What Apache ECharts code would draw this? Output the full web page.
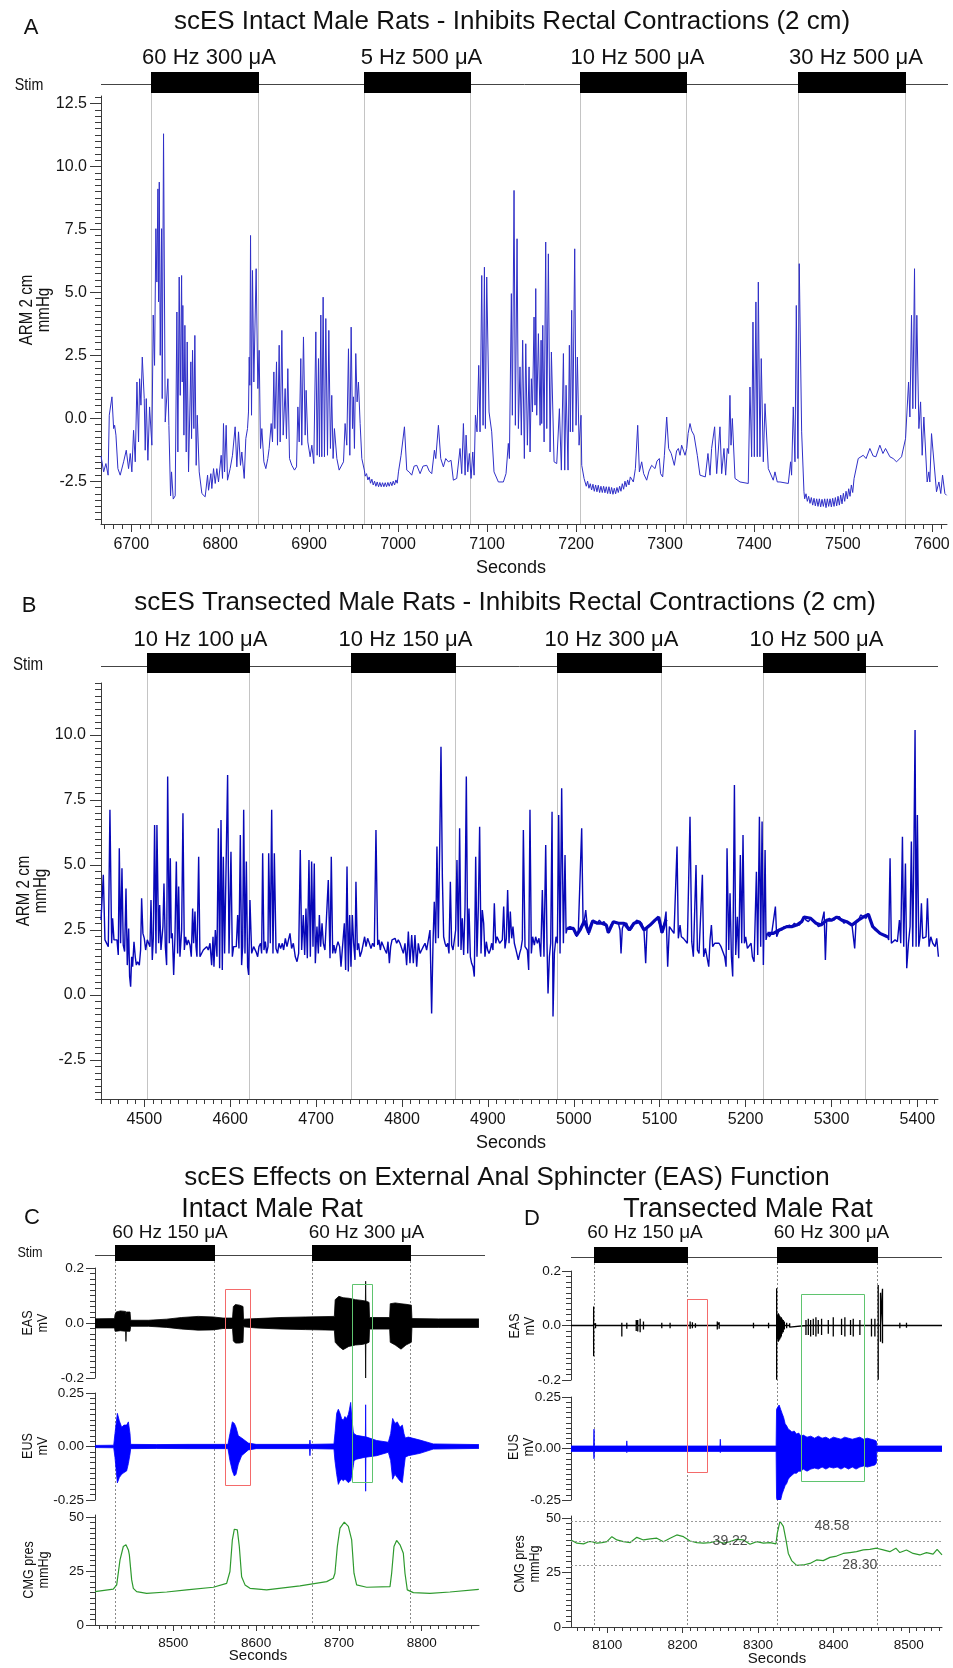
<!DOCTYPE html>
<html><head><meta charset="utf-8">
<script src="https://cdn.jsdelivr.net/npm/echarts@6/dist/echarts.min.js"></script>
<style>html,body{margin:0;padding:0;background:#fff}#c{width:953px;height:1668px}</style>
</head><body><div id="c"></div>
<script>
// ---------------- DATA ----------------
const armA = [
[6666,-1.5],[6669,-2.13],[6671.5,-1.8],[6674,-2.26],[6675.3,0.12],[6678.3,0.85],[6680.2,-0.41],[6681.3,-0.28],[6682.8,-0.67],[6685,-2.0],[6687.6,-2.26],[6691.4,-1.73],[6694.4,-1.27],[6697,-2.0],[6698.9,-1.4],[6700.7,-2.13],[6702.6,-0.48],[6704.5,-1.73],[6706.4,1.44],[6708.2,-0.94],[6709.4,1.57],[6710.9,0.52],[6712.4,2.43],[6714.6,0.78],[6715.7,-1.27],[6716.9,0.78],[6718.7,-1.67],[6720.6,0.45],[6723.2,-1.07],[6724.7,4.10],[6726.2,2.10],[6727.7,7.53],[6728.8,5.41],[6730.0,9.11],[6730.7,4.62],[6731.5,9.38],[6732.6,2.50],[6734.1,7.53],[6734.8,0.78],[6736.3,11.30],[6738.2,-0.15],[6741.2,1.57],[6742.3,-0.28],[6744.2,-3.08],[6745.3,-2.13],[6747.2,-3.21],[6749.4,-3.08],[6751.3,4.22],[6752.4,-1.34],[6753.9,5.61],[6755.1,0.91],[6756.6,5.67],[6757.3,1.44],[6758.0,4.48],[6759.2,-0.67],[6760.3,3.69],[6761.8,-1.34],[6762.9,3.03],[6764.4,-2.13],[6767.0,2.24],[6767.8,-0.81],[6768.9,2.70],[6770.4,-0.41],[6771.5,3.29],[6773.0,-1.87],[6774.2,0.12],[6776.4,-2.13],[6779.4,-2.99],[6783.1,-3.12],[6785.8,-2.26],[6786.9,-2.86],[6789.5,-2.2],[6790.6,-2.79],[6792.5,-2.0],[6794.4,-2.59],[6796.2,-2.0],[6798.1,-2.53],[6801.1,-1.47],[6802.6,-2.39],[6803.7,-0.21],[6804.9,-2.13],[6806.7,-0.28],[6808.2,-2.46],[6811.2,-2.0],[6813.8,-1.47],[6816.8,-0.34],[6818.7,-1.93],[6820.6,-0.54],[6822.8,-1.87],[6824.3,-1.34],[6827.0,-2.39],[6828.8,-0.81],[6830.7,-0.41],[6831.8,0.25],[6832.6,2.43],[6833.3,1.31],[6834.1,7.26],[6835.2,0.12],[6836.3,5.87],[6837.8,1.44],[6840.4,5.94],[6842.3,1.18],[6843.8,2.70],[6845.3,-1.20],[6846.8,-0.41],[6849.1,-1.73],[6851.3,-2.0],[6853.5,-1.6],[6855.0,-1.2],[6857.3,-0.21],[6858.8,-0.94],[6860.3,1.84],[6861.4,-0.41],[6863.3,2.24],[6864.4,-1.07],[6866.3,2.90],[6867.4,-0.94],[6869.3,3.49],[6870.8,-0.67],[6873.0,1.18],[6874.5,-0.81],[6876.0,1.97],[6877.9,-1.6],[6880.5,-1.87],[6883.5,-2.06],[6885.8,-1.93],[6887.3,0.45],[6888.8,-0.94],[6890.6,2.37],[6891.7,-1.07],[6893.6,3.23],[6895.5,-0.67],[6896.6,1.11],[6898.5,-0.94],[6901.1,-1.53],[6903.0,-1.07],[6905.2,-1.80],[6907.5,3.43],[6909.0,-1.47],[6910.5,2.37],[6911.6,-1.53],[6913.1,4.10],[6914.2,-1.53],[6915.7,4.81],[6917.2,-1.53],[6918.7,3.96],[6920.6,-1.47],[6922.1,3.49],[6923.9,-1.2],[6925.4,0.91],[6926.9,-1.6],[6928.4,-0.41],[6931.1,-1.6],[6933.7,-2.06],[6935.9,-2.06],[6938.6,-1.73],[6940.4,-0.21],[6942.3,-1.07],[6944.2,2.76],[6945.7,-1.47],[6947.2,3.62],[6948.7,-0.41],[6949.8,0.85],[6950.9,-1.2],[6952.4,2.57],[6953.9,0.65],[6955.4,1.44],[6957.3,-0.21],[6959.2,-1.6],
[6962,-2.06],[6963,-2.3],[6964.5,-2.2],[6966,-2.45],[6967.5,-2.33],[6969,-2.58],[6970.5,-2.42],[6972,-2.65],[6973.5,-2.5],[6975,-2.7],[6976.5,-2.53],[6978,-2.72],[6979.5,-2.55],[6981,-2.72],[6982.5,-2.56],[6984,-2.72],[6985.5,-2.56],[6987,-2.72],[6988.5,-2.55],[6990,-2.7],[6991.5,-2.53],[6993,-2.68],[6994.5,-2.5],[6996,-2.65],[6997.5,-2.45],[6999,-2.58],[7000.4,-2.13],
[7003.3,-1.47],[7007.1,-0.34],[7009.7,-2.06],[7012.3,-2.13],[7015.3,-2.26],[7018,-1.9],[7021.0,-1.87],[7024.7,-2.2],[7028,-1.9],[7032.2,-1.87],[7035,-2.1],[7037.8,-2.2],[7040.8,-1.27],[7042.3,-1.6],[7045.3,-0.28],[7047.9,-1.6],[7050.9,-1.93],[7053.5,-1.6],[7056.5,-1.73],[7059.5,-1.67],[7062.1,-2.46],[7065.9,-2.39],[7069.6,-1.2],[7071.5,-2.2],[7073.4,-0.21],[7075.3,-2.26],[7076.4,-0.67],[7078.3,-2.13],[7080.1,-1.4],[7082.0,-2.39],[7083.9,-1.34],[7085.4,-2.26],[7086.9,0.12],[7088.7,-0.54],[7090.6,2.10],[7092.1,-0.54],[7094.0,5.67],[7095.5,-0.28],[7097.0,6.0],[7098.1,-0.41],[7099.6,5.61],[7102.2,0.25],[7105.2,-0.54],[7107.8,-2.13],[7112.7,-2.53],[7118.3,-2.53],[7121.3,-2.2],[7123.9,-1.0],[7125.1,-1.6],[7127.3,4.95],[7128.4,0.12],[7130.3,9.05],[7131.8,-0.28],[7133.7,7.13],[7135.2,-0.41],[7137.0,2.04],[7138.5,-0.67],[7140.0,3.10],[7141.9,-1.6],
[7143.5,2.96],[7145.3,-1.07],[7147.2,2.04],[7148.3,-1.34],[7149.8,1.57],[7151.0,0.25],[7152.8,4.02],[7153.9,0.52],[7154.7,5.15],[7155.8,0.12],[7157.7,3.36],[7159.6,-0.28],[7160.7,3.10],[7161.4,-0.21],[7162.6,3.69],[7164.1,-0.94],[7165.9,7.0],[7167.1,-0.41],[7168.9,6.53],[7170.8,-1.34],[7172.3,2.63],[7175.3,-1.73],[7178.3,-1.80],[7181.3,0.38],[7183.5,-2.06],[7185.8,2.57],[7187.3,-2.06],[7188.8,1.31],[7191.0,-2.06],[7192.5,2.90],[7193.6,-0.54],[7195.1,4.29],[7196.3,-0.54],[7198.5,6.73],[7200.0,-0.28],[7201.5,2.43],[7203.4,-1.07],[7205.6,0.12],[7206.4,-1.87],[7209.0,-2.39],
[7210,-2.45],[7211.5,-2.7],[7213,-2.5],[7214.5,-2.78],[7216,-2.6],[7217.5,-2.85],[7219,-2.62],[7220.5,-2.9],[7222,-2.65],[7223.5,-2.92],[7225,-2.66],[7226.5,-2.95],[7228,-2.7],[7229.5,-2.95],[7231,-2.7],[7232.5,-2.96],[7234,-2.72],[7235.5,-2.99],[7237,-2.72],[7238.5,-3.0],[7240,-2.75],[7241.5,-3.02],[7243,-2.78],[7244.5,-3.0],[7246,-2.75],[7247.5,-2.95],[7249,-2.7],[7250.5,-2.9],[7252,-2.6],[7253.5,-2.82],[7255,-2.5],[7256.5,-2.72],[7258,-2.45],[7259.5,-2.65],[7261,-2.33],
[7264.4,-2.53],[7266.7,-2.0],[7269.3,-0.28],[7271.2,-2.13],[7273.8,-1.73],[7276,-2.2],[7279.4,-2.46],[7282,-2.1],[7285.0,-1.87],[7288.8,-2.0],[7291,-1.7],[7293.6,-1.6],[7295,-2.2],[7297.4,-2.33],[7299.3,-1.47],[7301.9,0.05],[7304.1,-1.20],[7307,-1.4],[7310.5,-1.87],[7313,-1.3],[7315.0,-1.20],[7316.9,-1.47],[7318.7,-1.07],[7322.5,-1.47],[7324.4,-1.20],[7326,-0.6],[7328.1,-0.21],[7330,-0.5],[7332.6,-0.67],[7336.3,-1.47],[7339.3,-2.26],[7345.3,-2.33],[7348.3,-1.40],[7350.6,-2.26],[7352.4,-1.20],[7355.8,-0.34],[7358.1,-2.20],[7361.8,-0.34],[7363.7,-2.20],[7366.3,-1.20],[7368.2,-2.26],[7370.0,-1.20],[7371.5,-1.40],[7373.0,0.91],[7374.2,-1.07],[7375.7,-0.01],[7378.7,-2.39],[7384.3,-2.53],[7393.6,-2.59],[7395.5,1.24],[7397.4,-1.53],[7398.9,3.82],[7400.4,-1.53],[7402.2,4.62],[7403.7,-1.53],[7404.9,5.41],[7406.7,-1.53],[7408.2,2.37],[7410.5,-1.73],[7412.4,0.58],[7416.1,-2.0],[7421.7,-2.46],[7423.6,-2.13],[7426.2,-2.53],[7429.2,-2.53],[7438.6,-2.59],[7441.2,-1.73],[7442.3,-2.26],[7444.2,0.45],[7446.1,-1.73],[7447.6,4.48],[7449.4,-1.60],[7450.9,6.14],[7453.6,-0.54],[7456.2,-2.92],
[7457,-3.2],[7458.5,-3.0],[7460,-3.3],[7461.5,-3.1],[7463,-3.38],[7464.5,-3.15],[7466,-3.45],[7467.5,-3.18],[7469,-3.48],[7470.5,-3.2],[7472,-3.5],[7473.5,-3.2],[7475,-3.52],[7476.5,-3.22],[7478,-3.5],[7479.5,-3.2],[7481,-3.55],[7482.5,-3.2],[7484,-3.5],[7485.5,-3.2],[7487,-3.52],[7488.5,-3.18],[7490,-3.5],[7491.5,-3.15],[7493,-3.48],[7494.5,-3.1],[7496,-3.45],[7497.5,-3.05],[7499,-3.4],[7500.5,-2.98],[7502,-3.3],[7503.5,-2.9],[7505,-3.2],[7506.5,-2.8],[7508,-3.1],[7509.5,-2.65],[7511,-2.95],[7512.5,-2.4],
[7517.2,-1.60],[7522.8,-1.47],[7526,-1.6],[7530.3,-1.20],[7534,-1.5],[7537.1,-1.53],[7541.5,-1.07],[7545,-1.4],[7547.9,-1.20],[7552.8,-1.53],[7556.5,-1.60],[7560.3,-1.73],[7565.9,-1.53],[7570.4,-0.81],[7573.8,1.44],[7575.3,0.05],[7577.1,4.09],[7578.6,0.38],[7580.5,5.94],[7581.6,0.38],[7583.1,4.09],[7585.4,-0.41],[7587.3,0.65],[7589.1,-1.47],[7591.0,0.05],[7594.7,-2.53],[7596.6,-2.13],[7597.7,-2.53],[7599.6,-0.61],[7605.2,-2.92],[7607.9,-2.53],[7610,-2.99],[7612.0,-2.26],[7614.6,-2.99],[7616.5,-3.06]
];
const armB = [
[4449.6,2.88],[4452.3,4.62],[4454.2,2.12],[4456.1,2.18],[4458.1,1.86],[4460.0,7.12],[4462.0,1.99],[4463.1,2.95],[4464.7,2.12],[4466.6,2.18],[4468.2,2.12],[4469.7,1.54],[4470.9,5.64],[4472.4,1.99],[4474.0,4.87],[4475.5,1.92],[4477.1,1.67],[4478.7,4.10],[4480.2,1.15],[4481.8,2.56],[4482.9,0.71],[4484.1,0.32],[4485.3,1.47],[4486.4,1.09],[4488.0,2.05],[4489.5,1.47],[4490.7,1.15],[4492.2,1.28],[4494.2,1.15],[4495.7,1.73],[4496.9,3.72],[4498.4,2.37],[4500.0,2.18],[4501.6,1.73],[4503.5,2.12],[4504.7,2.12],[4506.6,1.86],[4507.8,3.65],[4509.3,1.35],[4510.5,2.18],[4512.0,6.54],[4513.6,1.60],[4514.7,6.54],[4516.7,1.99],[4517.9,3.46],[4519.4,1.73],[4521.7,2.63],[4522.9,4.29],[4524.5,1.86],[4526.0,1.15],[4527.2,8.40],[4529.1,1.99],[4530.3,5.26],[4531.4,2.18],[4532.6,2.37],[4534.2,0.77],[4535.7,2.24],[4537.3,5.13],[4538.8,1.60],[4540.0,4.17],[4541.5,1.47],[4543.5,2.50],[4545.0,6.99],[4546.6,1.73],[4548.1,2.24],[4549.7,1.92],[4551.2,2.12],[4553.2,1.92],[4554.7,1.47],[4556.3,3.33],[4557.4,1.99],[4559.0,3.21],[4560.2,1.86],[4561.3,1.47],[4563.3,5.32],[4564.8,1.47],[4566.8,1.47],[4568.7,1.73],[4570.6,1.79],[4572.6,1.86],[4574.5,1.73],[4576.5,1.99],[4578.4,1.15],[4580.0,2.24],[4581.1,1.09],[4582.7,2.50],[4584.6,1.47],[4586.2,6.41],[4587.7,1.03],[4589.3,6.73],[4590.8,0.96],[4592.0,5.32],[4593.5,1.60],[4594.7,1.60],[4597.0,8.46],[4598.6,1.60],[4600.9,5.51],[4602.5,1.47],[4604.0,1.86],[4605.6,1.92],[4607.1,1.86],[4608.7,3.08],[4610.2,1.79],[4611.8,6.15],[4613.3,1.15],[4614.5,1.86],[4615.7,7.12],[4617.2,1.60],[4618.8,5.13],[4620.3,1.09],[4621.5,0.77],[4623.0,3.65],[4625.0,1.60],[4627.3,1.86],[4630.0,1.67],[4632.0,1.47],[4633.5,1.86],[4635.4,1.99],[4636.6,1.60],[4637.8,5.45],[4639.3,1.73],[4640.9,2.05],[4642.4,1.60],[4644.0,1.86],[4644.8,5.45],[4646.7,1.99],[4648.3,7.12],[4649.8,1.60],[4651.4,5.45],[4653.3,1.79],[4655.2,1.60],[4656.8,1.99],[4658.7,1.79],[4660.7,1.99],[4662.2,1.73],[4664.2,2.18],[4666.1,1.86],[4667.7,1.79],[4669.6,2.37],[4671.5,1.79],[4673.5,1.99],[4675.8,1.47],[4677.8,1.28],[4679.7,1.60],[4681.6,5.58],[4683.2,1.73],[4685.1,3.08],[4686.7,1.54],[4688.2,3.33],[4689.8,1.41],[4691.7,5.19],[4693.3,1.47],[4694.8,5.13],[4696.4,1.86],[4697.9,5.06],[4699.1,1.22],[4701.0,2.63],[4702.6,1.60],[4703.8,3.08],[4705.3,1.86],[4706.9,2.76],[4708.4,1.99],[4710.3,1.73],[4712.3,1.79],[4714.2,4.42],[4716.2,1.41],[4717.7,5.32],[4719.3,1.60],[4720.8,1.92],[4722.4,1.60],[4723.9,1.86],[4725.5,2.05],[4727.4,1.86],[4729.0,1.09],[4730.9,1.15],[4732.9,2.76],[4734.4,0.96],[4736.0,4.94],[4737.5,0.90],[4739.1,3.08],[4740.6,1.09],[4742.2,3.08],[4743.7,1.99],[4745.3,1.35],[4746.4,4.36],[4748.0,1.73],[4749.5,1.99],[4751.1,1.47],[4753.0,1.67],[4755.0,1.99],[4756.5,2.24],[4758.1,1.86],[4760.0,2.18],[4762.0,1.99],[4763.9,1.79],[4765.8,1.99],[4767.8,1.86],[4769.7,6.35],[4771.7,1.92],[4773.2,2.12],[4774.8,1.73],[4776.3,2.05],[4778.3,1.99],[4780.2,1.73],[4782.1,1.60],[4783.7,2.05],[4785.3,1.22],[4786.8,1.86],[4788.4,2.12],[4790.3,2.05],[4791.9,2.18],[4793.8,1.99],[4795.7,2.12],[4797.7,1.99],[4799.6,2.05],[4801.6,1.60],[4803.5,1.99],[4805.4,1.15],[4807.4,2.44],[4809.3,1.22],[4811.3,2.31],[4813.2,1.22],[4815.1,2.31],[4817.1,1.09],[4819.0,1.99],[4821.0,1.60],[4822.9,1.73],[4824.8,1.86],[4826.8,1.99],[4828.7,1.73],[4830.7,1.73],[4832.6,2.50],[4834.5,-0.71],[4836.1,1.99],[4837.6,3.59],[4839.2,1.99],[4840.7,5.71],[4842.3,2.18],[4843.9,5.71],[4845.4,9.55],[4847.0,4.55],[4848.5,2.24],[4850.1,1.99],[4851.6,1.86],[4853.2,1.99],[4854.7,1.60],[4856.3,4.36],[4857.8,1.92],[4859.4,1.73],[4860.9,1.67],[4862.5,2.50],[4864.0,5.19],[4865.6,1.86],[4867.1,6.41],[4868.7,1.73],[4870.2,2.95],[4871.8,1.54],[4873.4,3.40],[4874.9,8.40],[4876.5,1.60],[4878.0,3.33],[4879.6,1.47],[4881.1,1.22],[4882.7,1.09],[4884.2,0.71],[4885.8,5.32],[4887.3,1.47],[4888.9,3.40],[4890.4,6.47],[4892.0,1.60],[4893.5,3.27],[4895.1,2.76],[4896.6,1.47],[4898.2,2.05],[4899.7,1.73],[4901.3,1.60],[4902.8,1.73],[4904.4,1.99],[4905.9,1.73],[4907.5,3.53],[4909.1,1.99],[4910.6,2.24],[4912.2,2.12],[4913.7,1.99],[4915.3,1.92],[4916.8,2.12],[4918.4,3.40],[4919.9,1.79],[4921.5,2.18],[4923.0,4.04],[4924.6,1.99],[4926.1,3.21],[4927.7,2.18],[4929.2,2.63],[4930.8,1.99],[4932.3,1.79],[4933.9,1.86],[4935.4,1.35],[4937.0,1.60],[4938.6,1.79],[4940.1,2.12],[4941.3,6.35],[4943.2,1.86],
[4945.9,1.73],[4947.5,0.96],[4949.0,7.12],[4950.6,1.60],[4952.1,2.24],[4954.1,1.92],[4955.6,2.24],[4957.6,1.99],[4959.5,2.18],[4961.5,1.47],[4963.4,4.04],[4965.3,1.47],[4967.3,5.77],[4968.8,1.99],[4970.0,0.06],[4971.6,1.47],[4973.1,1.99],[4974.7,7.05],[4975.8,-0.83],[4977.4,1.60],[4979.3,2.24],[4980.9,1.99],[4982.4,6.92],[4984.0,1.60],[4985.9,7.95],[4987.9,1.99],[4989.8,5.38],[4991.0,2.37],[4992.5,2.56],[4995.6,2.63],[4999.5,2.56],[5003.4,2.24],[5005.3,2.50],[5007.3,2.50],[5009.2,6.41],[5010.8,2.76],[5012.3,2.88],[5013.9,3.27],[5015.4,2.76],[5017.4,2.31],[5019.3,2.69],[5022.0,2.88],[5024.7,2.76],[5027.4,2.76],[5029.8,2.88],[5032.5,2.76],[5035.2,2.82],[5037.9,2.69],[5040.2,2.37],[5043.0,2.69],[5046.1,2.82],[5049.2,2.76],[5051.9,2.76],[5053.8,2.50],[5055.0,1.60],[5056.5,2.56],[5058.5,2.76],[5061.6,2.76],[5064.7,2.50],[5067.4,2.56],[5070.1,2.76],[5073.2,2.88],[5076.3,2.82],[5079.1,2.76],[5081.8,2.44],[5083.7,1.22],[5085.3,2.63],[5088.8,2.69],[5091.9,2.76],[5094.6,2.88],[5097.3,2.95],[5098.9,3.01],[5100.4,2.69],[5102.7,2.37],[5105.4,2.76],[5107.4,3.21],[5109.3,1.09],[5111.3,2.63],[5114.0,2.50],[5116.7,2.37],[5118.6,2.37],[5120.2,5.71],[5121.7,2.18],[5123.7,2.69],[5125.2,2.24],[5127.6,2.18],[5129.5,2.12],[5132.2,1.99],[5133.8,2.05],[5135.3,6.86],[5137.3,2.05],[5139.2,1.47],[5140.8,1.47],[5142.3,5.00],[5143.9,1.73],[5145.8,1.60],[5147.8,1.60],[5149.7,4.62],[5151.2,1.47],[5153.2,1.79],[5155.1,1.73],[5157.1,1.09],[5158.6,2.12],[5160.2,2.69],[5161.7,1.86],[5164.1,1.99],[5166.4,2.05],[5169.1,1.99],[5171.4,1.86],[5173.4,1.86],[5175.7,1.47],[5177.3,1.09],[5178.4,5.64],[5180.4,1.73],[5181.9,3.91],[5183.5,1.47],[5185.0,0.71],[5187.0,8.08],[5188.5,1.54],[5190.4,3.01],[5192.0,1.41],[5193.9,5.38],[5195.5,1.99],[5197.0,6.15],[5198.6,1.99],[5200.1,2.24],[5202.1,1.79],[5204.4,1.86],[5206.4,1.99],[5207.9,1.47],[5209.9,1.28],[5211.4,1.35],[5212.6,4.74],[5214.1,1.54],[5216.1,6.86],[5217.6,1.86],[5219.2,6.67],[5220.7,1.15],[5222.7,5.58],[5223.8,2.12],[5225.4,2.37],[5227.7,2.24],[5230.4,2.37],[5232.4,2.37],[5234.7,3.40],[5236.2,2.24],[5239.3,2.50],[5242.1,2.50],[5244.8,2.63],[5247.9,2.63],[5251.0,2.69],[5253.7,2.63],[5256.8,2.76],[5259.5,2.69],[5262.6,2.69],[5265.3,2.82],[5268.1,3.01],[5270.4,2.88],[5273.1,2.82],[5275.8,2.95],[5278.9,2.82],[5282.0,2.76],[5284.8,2.63],[5287.9,2.69],[5289.8,2.76],[5291.4,3.21],[5292.9,1.35],[5294.5,2.88],[5297.6,2.95],[5300.3,2.88],[5303.0,2.88],[5306.1,3.01],[5309.2,3.01],[5311.9,2.88],[5314.6,2.76],[5317.7,2.82],[5320.8,2.76],[5323.9,2.69],[5325.5,2.63],[5327.0,1.79],[5328.6,2.82],[5331.3,2.88],[5334.0,3.08],[5337.1,3.01],[5340.3,2.95],[5343.0,3.14],[5345.7,2.88],[5348.0,2.63],[5350.7,2.50],[5353.4,2.44],[5356.5,2.37],[5359.7,2.31],[5362.4,2.31],[5365.1,2.24],[5366.6,2.12],[5368.2,5.26],[5369.7,1.99],[5371.3,1.99],[5374.0,2.12],[5376.7,2.05],[5379.1,2.88],[5380.6,1.99],[5382.6,6.09],[5384.1,1.86],[5386.1,5.06],[5387.6,1.03],[5389.6,1.99],[5391.5,2.63],[5393.0,5.90],[5394.6,1.86],[5395.8,5.06],[5397.3,10.19],[5398.5,1.86],[5400.0,6.92],[5401.6,1.86],[5403.1,2.24],[5404.7,3.53],[5406.2,2.18],[5408.2,2.12],[5410.1,2.24],[5411.7,3.72],[5413.6,1.86],[5415.6,2.24],[5417.9,1.99],[5420.6,1.86],[5422.5,2.18],[5424.5,1.47]
];
// thick noisy baseline stretches of trace B (centre values)
const armBBase1 = [[4992.5,2.56],[4999.5,2.56],[5003.4,2.3],[5007.3,2.5],[5012.3,2.85],[5017.4,2.4],[5022,2.85],[5027.4,2.76],[5032.5,2.76],[5037.9,2.69],[5040.2,2.4],[5046.1,2.82],[5051.9,2.76],[5058.5,2.76],[5064.7,2.5],[5070.1,2.76],[5076.3,2.82],[5081.8,2.5],[5088.8,2.69],[5094.6,2.88],[5098.9,3.0],[5102.7,2.4],[5107.4,2.9]];
const armBBase2 = [[5225.4,2.37],[5232.4,2.37],[5239.3,2.5],[5247.9,2.63],[5253.7,2.63],[5259.5,2.69],[5265.3,2.82],[5268.1,3.0],[5275.8,2.95],[5282,2.76],[5287.9,2.69],[5294.5,2.88],[5300.3,2.88],[5306.1,3.0],[5311.9,2.88],[5317.7,2.82],[5323.9,2.69],[5331.3,2.88],[5337.1,3.0],[5343,3.1],[5348,2.63],[5356.5,2.37],[5365.1,2.24]];

const stimA = [[6722,6842,'60 Hz 300 μA'],[6962,7081,'5 Hz 500 μA'],[7204,7324,'10 Hz 500 μA'],[7450,7570,'30 Hz 500 μA']];
const stimB = [[4503,4622,'10 Hz 100 μA'],[4741,4862,'10 Hz 150 μA'],[4981,5102,'10 Hz 300 μA'],[5220,5339,'10 Hz 500 μA']];
const stimC = [[8429.6,8549.5,'60 Hz 150 μA'],[8667.1,8786.2,'60 Hz 300 μA']];
const stimD = [[8083,8205.5,'60 Hz 150 μA'],[8325,8457.2,'60 Hz 300 μA']];

const aXTicks = [6700,6800,6900,7000,7100,7200,7300,7400,7500,7600];
const aYTicks = [-2.5,0,2.5,5,7.5,10,12.5];
const bXTicks = [4500,4600,4700,4800,4900,5000,5100,5200,5300,5400];
const bYTicks = [-2.5,0,2.5,5,7.5,10];
const cXTicks = [8500,8600,8700,8800];
const dXTicks = [8100,8200,8300,8400,8500];
const easTicks = [-0.2,0,0.2];
const eusTicks = [-0.25,0,0.25];
const cmgTicks = [0,25,50];

// EMG envelopes: [time, upper, lower]
const cEasEnv = [[8405,0.015,-0.018],[8429,0.016,-0.018],[8429.6,0.03,-0.03],[8431,0.04,-0.03],[8436,0.044,-0.028],[8442.4,0.042,-0.03],[8442.8,0.03,-0.067],[8443.2,0.04,-0.03],[8447.7,0.04,-0.03],[8448.5,0.01,-0.012],[8470,0.01,-0.012],[8492,0.014,-0.016],[8510,0.02,-0.022],[8530,0.024,-0.026],[8548,0.022,-0.025],[8560,0.018,-0.02],[8571.5,0.018,-0.02],[8572.5,0.06,-0.065],[8575,0.067,-0.073],[8580,0.065,-0.073],[8584.2,0.06,-0.07],[8584.8,0.014,-0.014],[8600,0.016,-0.018],[8630,0.02,-0.022],[8660,0.022,-0.024],[8694.5,0.024,-0.026],[8695.5,0.085,-0.07],[8700,0.097,-0.085],[8705,0.092,-0.097],[8712,0.09,-0.085],[8720,0.085,-0.08],[8728,0.082,-0.078],[8732,0.08,-0.075],[8732.3,0.152,-0.2],[8732.6,0.08,-0.075],[8736.4,0.075,-0.07],[8737,0.02,-0.022],[8761.3,0.02,-0.022],[8762,0.07,-0.07],[8768,0.073,-0.08],[8775,0.07,-0.095],[8781,0.068,-0.08],[8787.5,0.065,-0.07],[8788.2,0.016,-0.016],[8820,0.015,-0.016],[8869,0.015,-0.016]];
const cEusEnv = [[8405,0.005,-0.005],[8428,0.006,-0.006],[8429.5,0.06,-0.05],[8432.4,0.155,-0.17],[8434.8,0.12,-0.145],[8437.6,0.09,-0.13],[8440.4,0.1,-0.122],[8443.6,0.1,-0.114],[8445.7,0.115,-0.08],[8447.7,0.06,-0.035],[8448.5,0.01,-0.01],[8480,0.009,-0.009],[8520,0.01,-0.01],[8566,0.01,-0.01],[8568.4,0.06,-0.066],[8571.3,0.115,-0.114],[8573.7,0.108,-0.138],[8575.7,0.09,-0.13],[8578.5,0.05,-0.082],[8582.5,0.04,-0.043],[8590.6,0.016,-0.016],[8600,0.01,-0.01],[8664.5,0.01,-0.01],[8665,0.03,-0.043],[8665.5,0.01,-0.01],[8694,0.012,-0.012],[8695.2,0.06,-0.066],[8697.3,0.155,-0.13],[8699.3,0.174,-0.177],[8701.3,0.155,-0.16],[8703.3,0.13,-0.153],[8705.3,0.123,-0.16],[8707.3,0.14,-0.153],[8709.3,0.131,-0.16],[8711.4,0.15,-0.169],[8712.6,0.171,-0.165],[8714.2,0.206,-0.16],[8715.8,0.123,-0.13],[8717.4,0.068,-0.09],[8718.2,0.06,-0.066],[8721.4,0.052,-0.059],[8732.0,0.045,-0.05],[8732.3,0.195,-0.209],[8732.6,0.045,-0.05],[8745.6,0.028,-0.043],[8759.7,0.02,-0.027],[8762.5,0.06,-0.066],[8764.9,0.131,-0.153],[8767.7,0.108,-0.13],[8770.5,0.115,-0.145],[8773.8,0.09,-0.161],[8776.6,0.1,-0.169],[8778.6,0.06,-0.1],[8780.2,0.04,-0.05],[8783.8,0.044,-0.043],[8797.9,0.03,-0.032],[8814,0.012,-0.012],[8869,0.009,-0.009]];
const cCmg = [[8405.4,15.5],[8427.5,16.6],[8431.6,18.6],[8435.6,30.2],[8439.6,36.4],[8442.8,37.2],[8445.7,34.8],[8446.9,32.5],[8448.5,31.7],[8449.7,20.9],[8451.7,17.0],[8455.7,15.5],[8467.8,14.7],[8492.0,15.3],[8516.1,16.3],[8548.3,17.5],[8564.4,19.3],[8568.4,24.8],[8571.3,39.5],[8573.7,44.4],[8577.3,44.1],[8579.7,36.4],[8582.5,22.4],[8586.6,18.6],[8592.6,17.0],[8612.7,16.3],[8653.0,18.1],[8685.2,20.1],[8693.2,21.7],[8695.2,24.0],[8698.1,36.4],[8701.3,44.9],[8706.5,47.7],[8711.4,45.7],[8715.4,39.5],[8718.2,24.0],[8721.4,18.6],[8733.5,17.5],[8761.7,17.8],[8763.7,24.0],[8766.5,36.4],[8769.7,39.2],[8773.8,37.2],[8777.8,33.3],[8779.8,24.0],[8782.6,16.3],[8789.9,15.0],[8810.0,14.7],[8834.1,15.3],[8869,16.5]];
// D EAS: discrete spikes [time, upper, lower] on a flat baseline
const dEasSpikes = [[8082.0,0.07,-0.113],[8084.5,0.008,-0.01],[8088.5,0.006,-0.006],[8119.4,0.01,-0.04],[8126,0.01,-0.012],[8138.5,0.02,-0.02],[8140.5,0.02,-0.022],[8143.7,0.025,-0.025],[8148.1,0.015,-0.015],[8172.4,0.01,-0.01],[8183.4,0.01,-0.01],[8210,0.015,-0.012],[8213,0.012,-0.01],[8217,0.008,-0.008],[8246,0.015,-0.015],[8248.5,0.012,-0.012],[8294,0.01,-0.01],[8314,0.01,-0.01],[8324.7,0.137,-0.199],[8326,0.04,-0.05],[8327,0.045,-0.06],[8328,0.04,-0.055],[8329,0.035,-0.05],[8330,0.03,-0.045],[8331,0.03,-0.04],[8332,0.025,-0.03],[8333.5,0.02,-0.025],[8335,0.015,-0.015],[8338,0.01,-0.01],[8342,0.008,-0.006],[8363.6,0.02,-0.035],[8366.7,0.025,-0.035],[8369.8,0.02,-0.04],[8373.3,0.025,-0.035],[8376.8,0.03,-0.04],[8379.9,0.02,-0.03],[8384.3,0.025,-0.035],[8393.2,0.02,-0.03],[8399.8,0.03,-0.04],[8410.8,0.025,-0.035],[8415.2,0.03,-0.04],[8422.7,0.02,-0.035],[8426.3,0.025,-0.04],[8435.1,0.02,-0.035],[8450.5,0.025,-0.04],[8455.0,0.025,-0.04],[8459.4,0.149,-0.199],[8462.5,0.12,-0.06],[8465.1,0.135,-0.065],[8488.1,0.01,-0.01],[8496.9,0.01,-0.008],[8527.8,0.005,-0.005]];
const dEusEnv = [[8052,0.012,-0.014],[8082,0.012,-0.014],[8082.5,0.094,-0.05],[8083,0.012,-0.014],[8125.5,0.012,-0.014],[8126,0.037,-0.02],[8126.5,0.012,-0.014],[8249.5,0.012,-0.014],[8250,0.045,-0.02],[8250.5,0.012,-0.014],[8324,0.012,-0.014],[8324.6,0.19,-0.24],[8326,0.2,-0.26],[8328,0.211,-0.269],[8330,0.19,-0.25],[8332,0.17,-0.22],[8334,0.15,-0.2],[8336,0.12,-0.18],[8338,0.11,-0.17],[8340,0.095,-0.15],[8342,0.09,-0.14],[8345,0.08,-0.13],[8348,0.085,-0.12],[8351,0.07,-0.12],[8354,0.075,-0.11],[8357,0.06,-0.11],[8360,0.065,-0.1],[8365,0.055,-0.11],[8370,0.06,-0.1],[8375,0.05,-0.095],[8380,0.06,-0.1],[8385,0.05,-0.09],[8390,0.055,-0.1],[8395,0.045,-0.09],[8400,0.055,-0.095],[8405,0.05,-0.09],[8410,0.045,-0.1],[8415,0.055,-0.09],[8420,0.05,-0.1],[8425,0.045,-0.09],[8430,0.05,-0.1],[8435,0.055,-0.09],[8440,0.045,-0.085],[8445,0.05,-0.09],[8450,0.045,-0.085],[8455,0.04,-0.08],[8457,0.035,-0.07],[8457.5,0.012,-0.014],[8544,0.012,-0.014]];
const dCmg = [[8052,40.0],[8059.8,38.5],[8068.7,38.2],[8075.3,39.2],[8079.7,39.2],[8086.3,38.5],[8092.9,38.8],[8099.6,39.2],[8106.2,41.5],[8112.8,40.0],[8121.6,39.2],[8130.5,38.8],[8139.3,41.2],[8148.1,40.0],[8157.0,40.5],[8165.8,40.8],[8174.6,39.2],[8183.4,40.8],[8192.3,42.3],[8201.1,41.5],[8209.9,39.5],[8218.8,38.8],[8227.6,38.5],[8236.4,38.8],[8245.3,39.5],[8254.1,38.5],[8262.9,39.2],[8271.7,40.3],[8280.6,40.0],[8289.4,38.0],[8298.2,39.2],[8307.1,38.5],[8315.9,38.8],[8323.8,38.2],[8325.6,43.1],[8329.1,48.58],[8333.6,46.2],[8337.1,40.0],[8340.2,33.8],[8344.6,30.5],[8351.2,28.3],[8360.0,28.5],[8368.9,29.2],[8377.7,30.8],[8386.5,30.5],[8395.4,32.0],[8404.2,32.6],[8413.0,33.8],[8421.9,34.2],[8430.7,34.6],[8439.5,35.4],[8448.3,35.7],[8457.2,36.2],[8466.0,35.4],[8474.8,34.6],[8482.8,36.2],[8488.1,34.2],[8496.9,35.4],[8505.7,33.8],[8514.6,33.1],[8523.4,34.2],[8532.2,33.5],[8537.5,35.7],[8544,33.1]];
const dLevels = [48.58, 39.22, 28.30];
const dLevelLabelTimes = [8398, 8263, 8435];
const boxesC = [[8562.4,8592.6],[8715.8,8740.0]];
const boxesD = [[8205.6,8232.0],[8356.6,8440.0]];

// ---------------- FONTS ----------------
const RFAM = '"Liberation Sans", Arial, Helvetica, sans-serif';
const rf = px => px+'px '+RFAM;
const NARROW_SX = 0.84; // horizontal squeeze used to imitate the condensed face of the original

// ---------------- BUILDERS ----------------
const AXC='#3a3a3a', TXC='#151515';
const grids=[], xAxes=[], yAxes=[], series=[];
function addGrid(g){grids.push(Object.assign({containLabel:false},g));return grids.length-1;}
function addX(o){xAxes.push(Object.assign({type:'value',splitLine:{show:false}},o));return xAxes.length-1;}
function addY(o){yAxes.push(Object.assign({type:'value',splitLine:{show:false}},o));return yAxes.length-1;}
function steps(a,b,s){const r=[];const n=Math.round((b-a)/s);for(let i=0;i<=n;i++)r.push(+(a+i*s).toFixed(4));return r;}
function visX(gi,min,max,ticks,minor,o){
  const idx=addX({gridIndex:gi,min,max,position:'bottom',
    axisLine:{show:true,onZero:false,lineStyle:{color:AXC,width:1}},
    axisTick:{show:true,inside:false,customValues:ticks,length:o.tl,lineStyle:{color:AXC}},
    axisLabel:{show:true,customValues:ticks,margin:o.margin,color:TXC,fontFamily:RFAM,fontSize:o.fs,formatter:v=>String(v)}});
  addX({gridIndex:gi,min,max,position:'bottom',axisLine:{show:false,onZero:false},
    axisTick:{show:true,inside:false,customValues:minor,length:o.ml,lineStyle:{color:AXC}},axisLabel:{show:false}});
  return idx;
}
function visY(gi,min,max,ticks,minor,o){
  const idx=addY({gridIndex:gi,min,max,position:'left',
    axisLine:{show:true,onZero:false,lineStyle:{color:AXC,width:1}},
    axisTick:{show:true,inside:false,customValues:ticks,length:o.tl,lineStyle:{color:AXC}},
    axisLabel:{show:true,customValues:ticks,margin:o.margin,color:TXC,fontFamily:RFAM,fontSize:o.fs,formatter:o.fmt}});
  addY({gridIndex:gi,min,max,position:'left',axisLine:{show:false,onZero:false},
    axisTick:{show:true,inside:false,customValues:minor,length:o.ml,lineStyle:{color:AXC}},axisLabel:{show:false}});
  return idx;
}
function hidX(gi,min,max){return addX({gridIndex:gi,min,max,show:false});}
function hidY(gi,min,max){return addY({gridIndex:gi,min,max,show:false});}

function stimSeries(xi,yi,data,cfg){
  return {type:'custom',xAxisIndex:xi,yAxisIndex:yi,data:data.map(d=>[d[0],d[1]]),clip:false,silent:true,z:1,
    renderItem:function(params,api){
      const cs=params.coordSys;
      const x1=Math.round(api.coord([api.value(0),0.5])[0])+0.5;
      const x2=Math.round(api.coord([api.value(1),0.5])[0])+0.5;
      const yb=cs.y+cfg.barH, ye=cs.y+cs.height;
      const ch=[];
      if(params.dataIndex===0){
        const ly=Math.round(cs.y+cfg.lineOff)+0.5;
        ch.push({type:'line',shape:{x1:cs.x,y1:ly,x2:cs.x+cs.width+cfg.lineExt,y2:ly},style:{stroke:'#444',lineWidth:1}});
      }
      ch.push({type:'line',shape:{x1:x1,y1:yb,x2:x1,y2:ye},style:{stroke:cfg.vColor,lineWidth:1,lineDash:cfg.dash}});
      ch.push({type:'line',shape:{x1:x2,y1:yb,x2:x2,y2:ye},style:{stroke:cfg.vColor,lineWidth:1,lineDash:cfg.dash}});
      ch.push({type:'rect',shape:{x:x1-0.5,y:cs.y,width:x2-x1+1,height:cfg.barH},style:{fill:'#000'}});
      ch.push({type:'text',x:(x1+x2)/2+cfg.labelDx,y:cs.y-cfg.labelDy,
        style:{text:data[params.dataIndex][2],font:cfg.font,fill:'#111',textAlign:'center',textVerticalAlign:'middle',align:'center',verticalAlign:'middle'}});
      return {type:'group',children:ch};
    }};
}
function bandSeries(xi,yi,env,color){
  return {type:'custom',xAxisIndex:xi,yAxisIndex:yi,data:[[env[0][0],env[0][1]]],clip:true,silent:true,z:3,
    renderItem:function(params,api){
      const top=env.map(e=>api.coord([e[0],e[1]]));
      const bot=env.map(e=>api.coord([e[0],e[2]])).reverse();
      return {type:'polygon',shape:{points:top.concat(bot)},style:{fill:color,stroke:color,lineWidth:0.8}};
    }};
}
function boxSeries(xi,yi,boxes,cfgs){
  return {type:'custom',xAxisIndex:xi,yAxisIndex:yi,data:boxes.map(b=>[b[0],b[1]]),clip:false,silent:true,z:6,
    renderItem:function(params,api){
      const cs=params.coordSys, c=cfgs[params.dataIndex];
      const x1=Math.round(api.coord([api.value(0),0.5])[0])+0.5;
      const x2=Math.round(api.coord([api.value(1),0.5])[0])+0.5;
      return {type:'rect',shape:{x:x1,y:cs.y+c.top+0.5,width:x2-x1,height:c.bottom-c.top},style:{fill:null,stroke:c.color,lineWidth:1}};
    }};
}
function lineSeries(xi,yi,data,color,w,z){
  return {type:'line',xAxisIndex:xi,yAxisIndex:yi,data,showSymbol:false,symbol:'none',silent:true,z:z||4,
    lineStyle:{color,width:w},itemStyle:{color},clip:true};
}

// ---------------- PANEL A ----------------
const A_MIN=6666, A_MAX=7617;
let g=addGrid({left:101,right:6,top:96,bottom:1144});
let xi=visX(g,A_MIN,A_MAX,aXTicks,steps(6670,7610,10),{tl:8,ml:5,margin:13,fs:16});
let yi=visY(g,-4.2,12.8,aYTicks,steps(-4,12.75,0.25),{tl:11,ml:6,margin:14,fs:16,fmt:v=>v.toFixed(1)});
series.push(lineSeries(xi,yi,armA,'#2f2fc8',1));
g=addGrid({left:101,right:6,top:72,bottom:1144});
series.push(stimSeries(hidX(g,A_MIN,A_MAX),hidY(g,0,1),stimA,{barH:21,lineOff:12,lineExt:1,labelDy:14,labelDx:4,font:rf(22),vColor:'#c4c4c4',dash:null}));

// ---------------- PANEL B ----------------
const B_MIN=4449.6, B_MAX=5424;
g=addGrid({left:101,right:15,top:683,bottom:569});
xi=visX(g,B_MIN,B_MAX,bXTicks,steps(4450,5420,10),{tl:8,ml:5,margin:13,fs:16});
yi=visY(g,-4,12,bYTicks,steps(-4,12,0.25),{tl:11,ml:6,margin:15,fs:16,fmt:v=>v.toFixed(1)});
series.push(lineSeries(xi,yi,armBBase1,'#0808b8',3.2,3));
series.push(lineSeries(xi,yi,armBBase2,'#0808b8',3.2,3));
series.push(lineSeries(xi,yi,armB,'#0808b8',1.4));
g=addGrid({left:101,right:15,top:653,bottom:569});
series.push(stimSeries(hidX(g,B_MIN,B_MAX),hidY(g,0,1),stimB,{barH:20,lineOff:13,lineExt:0,labelDy:13,labelDx:2,font:rf(22),vColor:'#c4c4c4',dash:null}));

// ---------------- PANEL C ----------------
const C_MIN=8405.4, C_MAX=8869.2;
const cL=95, cR=953-479;
g=addGrid({left:cL,right:cR,top:1268,height:110});
xi=hidX(g,C_MIN,C_MAX);
yi=visY(g,-0.2,0.2,easTicks,steps(-0.2,0.2,0.02),{tl:9,ml:5,margin:11,fs:13.5,fmt:v=>v.toFixed(1)});
series.push(bandSeries(xi,yi,cEasEnv,'#000000'));
g=addGrid({left:cL,right:cR,top:1393,height:107});
xi=hidX(g,C_MIN,C_MAX);
yi=visY(g,-0.25,0.25,eusTicks,steps(-0.25,0.25,0.025),{tl:9,ml:5,margin:11,fs:13.5,fmt:v=>v.toFixed(2)});
series.push(bandSeries(xi,yi,cEusEnv,'#0000ff'));
g=addGrid({left:cL,right:cR,top:1515,bottom:43});
xi=visX(g,C_MIN,C_MAX,cXTicks,steps(8410,8860,10),{tl:6,ml:4,margin:11,fs:13.5});
yi=visY(g,0,51,cmgTicks,steps(0,50,2.5),{tl:9,ml:5,margin:11,fs:13.5,fmt:v=>String(v)});
series.push(lineSeries(xi,yi,cCmg,'#2e9a2e',1.2));
g=addGrid({left:cL,right:cR,top:1245,bottom:43});
xi=hidX(g,C_MIN,C_MAX); yi=hidY(g,0,1);
series.push(stimSeries(xi,yi,stimC,{barH:16,lineOff:10,lineExt:6,labelDy:12,labelDx:5,font:rf(19),vColor:'#8a8a8a',dash:[2,2]}));
series.push(boxSeries(xi,yi,boxesC,[{top:44,bottom:240,color:'#f46a6a'},{top:39,bottom:237,color:'#5fc46f'}]));

// ---------------- PANEL D ----------------
const D_MIN=8052, D_MAX=8544;
const dL=571, dR=11;
g=addGrid({left:dL,right:dR,top:1271,height:109});
xi=hidX(g,D_MIN,D_MAX);
yi=visY(g,-0.2,0.2,easTicks,steps(-0.2,0.2,0.02),{tl:9,ml:5,margin:10,fs:13.5,fmt:v=>v.toFixed(1)});
const dEasLine=[[D_MIN,0]];
dEasSpikes.forEach(s=>{dEasLine.push([s[0],0],[s[0],s[1]],[s[0],s[2]],[s[0],0]);});
dEasLine.push([D_MAX,0]);
series.push(lineSeries(xi,yi,dEasLine,'#000000',1.3));
g=addGrid({left:dL,right:dR,top:1397,height:103});
xi=hidX(g,D_MIN,D_MAX);
yi=visY(g,-0.25,0.25,eusTicks,steps(-0.25,0.25,0.025),{tl:9,ml:5,margin:10,fs:13.5,fmt:v=>v.toFixed(2)});
series.push(bandSeries(xi,yi,dEusEnv,'#0000ff'));
g=addGrid({left:dL,right:dR,top:1516,bottom:41});
xi=visX(g,D_MIN,D_MAX,dXTicks,steps(8060,8540,10),{tl:6,ml:4,margin:11,fs:13.5});
yi=visY(g,0,51,cmgTicks,steps(0,50,2.5),{tl:9,ml:5,margin:10,fs:13.5,fmt:v=>String(v)});
const dCmgSeries=lineSeries(xi,yi,dCmg,'#2e9a2e',1.2);
dCmgSeries.markLine={silent:true,symbol:['none','none'],label:{show:false},animation:false,
  lineStyle:{color:'#9a9a9a',type:[2,2],width:1},data:dLevels.map(v=>({yAxis:v}))};
series.push(dCmgSeries);
series.push({type:'scatter',xAxisIndex:xi,yAxisIndex:yi,symbolSize:0,silent:true,z:7,
  data:dLevelLabelTimes.map((t,i)=>[t,dLevels[i]]),
  label:{show:true,position:'inside',formatter:p=>p.value[1].toFixed(2),color:'#222',fontFamily:RFAM,fontSize:14},
  labelLayout:function(p){return p.dataIndex===0?{dy:5}:{};}});
g=addGrid({left:dL,right:dR,top:1247,bottom:41});
xi=hidX(g,D_MIN,D_MAX); yi=hidY(g,0,1);
series.push(stimSeries(xi,yi,stimD,{barH:16,lineOff:10,lineExt:0,labelDy:14,labelDx:4,font:rf(19),vColor:'#8a8a8a',dash:[2,2]}));
series.push(boxSeries(xi,yi,boxesD,[{top:52,bottom:225,color:'#f46a6a'},{top:47,bottom:234,color:'#5fc46f'}]));

// ---------------- TEXT ----------------
function T(x,y,text,font,extra){
  return Object.assign({type:'text',x:x,y:y,silent:true,z:10,
    style:{text:text,font:font,fill:'#111',textAlign:'center',textVerticalAlign:'middle',align:'center',verticalAlign:'middle'}},extra||{});
}
function N(x,y,text,px){ return T(x,y,text,rf(px),{scaleX:NARROW_SX}); }
function R(x,y,text,px,lh){
  const e=T(x,y,text,rf(px),{rotation:Math.PI/2,scaleX:NARROW_SX});
  e.style.lineHeight=lh; return e;
}
const texts=[
  T(31,28,'A',rf(22)),
  T(512,22,'scES Intact Male Rats - Inhibits Rectal Contractions (2 cm)',rf(26)),
  N(29,85,'Stim',17),
  T(511,568,'Seconds',rf(18)),
  R(36,310,'ARM 2 cm\nmmHg',18,17),
  T(29,606,'B',rf(22)),
  T(505,603,'scES Transected Male Rats - Inhibits Rectal Contractions (2 cm)',rf(26)),
  N(28,665,'Stim',18),
  T(511,1143,'Seconds',rf(18)),
  R(33,891,'ARM 2 cm\nmmHg',18,17),
  T(507,1178,'scES Effects on External Anal Sphincter (EAS) Function',rf(26)),
  T(272,1210,'Intact Male Rat',rf(27)),
  T(748,1210,'Transected Male Rat',rf(27)),
  T(32,1218,'C',rf(22)),
  T(532,1219,'D',rf(22)),
  N(30,1253,'Stim',15),
  T(258,1656,'Seconds',rf(15)),
  T(777,1659,'Seconds',rf(15)),
  R(35,1323,'EAS\nmV',15,15),
  R(35,1446,'EUS\nmV',15,15),
  R(36,1570,'CMG pres\nmmHg',15,15),
  R(522,1326,'EAS\nmV',15,15),
  R(521,1447,'EUS\nmV',15,15),
  R(527,1564,'CMG pres\nmmHg',15,15)
];

const chart=echarts.init(document.getElementById('c'),null,{renderer:'canvas'});
chart.setOption({
  animation:false,
  backgroundColor:'#ffffff',
  grid:grids, xAxis:xAxes, yAxis:yAxes, series:series,
  graphic:{elements:texts}
});
</script></body></html>
